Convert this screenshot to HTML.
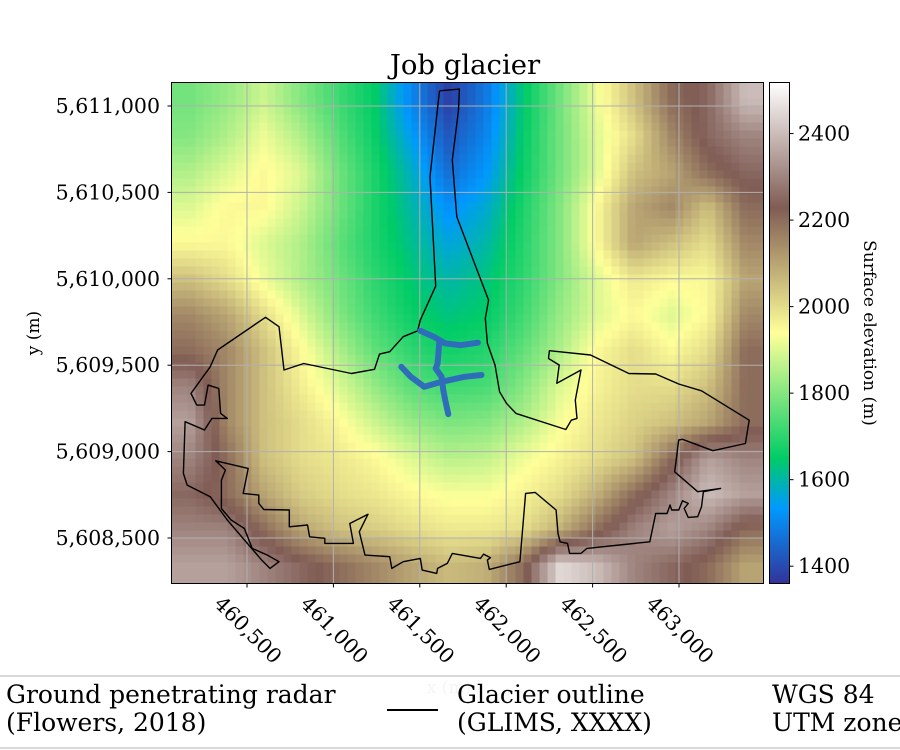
<!DOCTYPE html>
<html><head><meta charset="utf-8"><style>
html,body{margin:0;padding:0;background:#fff;width:900px;height:750px;overflow:hidden}
svg{display:block;font-family:"DejaVu Serif","Liberation Serif",serif}
</style></head><body>
<svg id="c" width="900" height="750" viewBox="0 0 900 750">
<text x="465" y="74" font-size="27.5" text-anchor="middle">Job glacier</text>
<g id="heat"></g>
<g id="grid"></g>
<g id="outline"></g>
<g id="radar"></g>
<rect x="171.5" y="82.5" width="592" height="501" fill="none" stroke="#000" stroke-width="1"/>
<g id="xt"></g>
<g id="yt"></g>
<text transform="translate(39,333) rotate(-90)" font-size="17" text-anchor="middle">y (m)</text>
<defs><linearGradient id="cg" x1="0" y1="1" x2="0" y2="0"></linearGradient></defs>
<rect x="769.5" y="82.5" width="20" height="501" fill="url(#cg)" stroke="#000" stroke-width="1"/>
<g id="ct"></g>
<text transform="translate(864,333) rotate(90)" font-size="17" text-anchor="middle">Surface elevation (m)</text>
<text x="449" y="693" font-size="17" fill="#c8c8c8" text-anchor="middle">x (m)</text>
<g>
<rect x="-1" y="676" width="902" height="72" fill="#fff" fill-opacity="0.8" stroke="#ccc" stroke-width="1.5"/>
<text x="6" y="703" font-size="25">Ground penetrating radar</text>
<text x="6" y="731" font-size="25">(Flowers, 2018)</text>
<line x1="387" y1="710" x2="438" y2="710" stroke="#000" stroke-width="2"/>
<text x="457" y="703" font-size="25">Glacier outline</text>
<text x="457" y="731" font-size="25">(GLIMS, XXXX)</text>
<text x="772" y="703" font-size="25">WGS 84</text>
<text x="772" y="731" font-size="25">UTM zone</text>
</g>
</svg>
<script>
// ---- data ----
const xTicks=[460500,461000,461500,462000,462500,463000];
const yTicks=[5611000,5610500,5610000,5609500,5609000,5608500];
const cbTicks=[1400,1600,1800,2000,2200,2400];
const vMin=1360, vMax=2518;
// elevation grid (rows top->bottom, 16 cols)
const elev=[
[1780,1820,1880,1800,1720,1650,1500,1380,1480,1640,1780,1920,2050,2200,2250,2400],
[1800,1850,1920,1850,1750,1660,1540,1420,1500,1650,1780,1900,2000,2150,2250,2300],
[1850,1900,1950,1900,1780,1680,1580,1460,1530,1660,1780,1900,2050,2100,2200,2250],
[1900,1950,1950,1880,1780,1680,1600,1520,1570,1680,1800,1950,2100,2150,2050,2200],
[1950,1950,1900,1850,1760,1680,1620,1560,1600,1690,1800,1950,2100,2050,2000,2150],
[2050,2000,1920,1850,1780,1700,1640,1600,1630,1700,1800,1900,1980,1950,1950,2100],
[2150,2100,2000,1900,1800,1720,1660,1630,1650,1720,1820,1900,1950,1900,1950,2150],
[2200,2150,2050,1950,1850,1760,1700,1670,1690,1760,1850,1950,2000,1950,2000,2200],
[2300,2150,2050,1970,1900,1820,1750,1720,1730,1800,1900,1960,2000,2000,2050,2200],
[2350,2150,2050,2000,1950,1880,1820,1790,1800,1850,1930,1980,2020,2050,2100,2200],
[2300,2200,2050,2000,1980,1950,1900,1860,1870,1920,1960,2000,2050,2200,2350,2300],
[2250,2200,2100,2030,2000,1980,1950,1930,1930,1960,2000,2080,2200,2300,2400,2350],
[2300,2300,2200,2100,2050,2030,2000,1980,1980,2000,2080,2200,2300,2350,2300,2200],
[2350,2350,2300,2250,2200,2150,2100,2060,2080,2200,2450,2400,2300,2250,2200,2100]];
const outlineE=[461614,461729,461724,461688,461714,461824,461898,461879,461891,461935,461962,462002,462057,462345,462377,462410,462400,462433,462293,462307,462245,462250,462488,462710,462865,462998,463130,463406,463384,463196,463020,462998,462975,463108,463241,463141,463130,463108,463053,463030,463053,463020,462998,462958,462948,462931,462865,462831,462467,462433,462367,462355,462312,462300,462289,462167,462112,462079,461902,461891,461909,461869,461851,461688,461659,461603,461598,461514,461503,461404,461338,461326,461183,461150,461200,461095,461116,460950,460950,460862,460850,460745,460745,460597,460568,460568,460478,460507,460319,460375,460352,460352,460408,460485,460530,460618,460685,460633,460585,460386,460287,460154,460132,460142,460254,460297,460386,460347,460337,460275,460254,460209,460176,460287,460330,460607,460685,460714,460828,461105,461238,461267,461326,461404,461488,461503,461592,461559,461614];
const outlineN=[5611088,5611098,5610976,5610687,5610359,5610070,5609877,5609771,5609626,5609501,5609346,5609279,5609221,5609128,5609182,5609192,5609298,5609472,5609395,5609501,5609539,5609584,5609559,5609452,5609449,5609391,5609352,5609182,5609047,5609005,5609071,5609067,5608883,5608768,5608787,5608768,5608681,5608623,5608619,5608671,5608700,5608716,5608662,5608662,5608691,5608642,5608642,5608478,5608440,5608411,5608411,5608469,5608478,5608527,5608662,5608764,5608758,5608363,5608318,5608372,5608386,5608407,5608382,5608411,5608353,5608324,5608295,5608314,5608382,5608363,5608324,5608392,5608401,5608536,5608638,5608584,5608469,5608469,5608498,5608507,5608575,5608565,5608662,5608665,5608700,5608748,5608758,5608903,5608947,5608893,5608835,5608671,5608604,5608555,5608440,5608401,5608363,5608324,5608372,5608604,5608739,5608806,5608874,5609173,5609125,5609192,5609192,5609221,5609366,5609385,5609269,5609269,5609337,5609491,5609588,5609777,5609723,5609472,5609510,5609452,5609476,5609564,5609578,5609665,5609699,5609761,5609958,5610591,5611088];
const radarAE=[461503,461581,461647,461736,461836];
const radarAN=[5609699,5609665,5609626,5609616,5609630];
const radarVE=[461614,461603,461592,461626,461636,461647,461665];
const radarVN=[5609645,5609510,5609481,5609433,5609356,5609298,5609217];
const radarLE=[461393,461448,461526,461626,461758,461857];
const radarLN=[5609491,5609433,5609375,5609404,5609433,5609443];

// ---- axes ----
const PX0=171.5,PX1=763.5,PY0=82.5,PY1=583.5;
const sx=v=>247+(v-460500)*86.4/500;
const sy=v=>106+(5611000-v)*86.4/500;
const sc=v=>583.5-(v-vMin)/(vMax-vMin)*501;
const NS="http://www.w3.org/2000/svg";
function mk(t,a,p){const e=document.createElementNS(NS,t);for(const k in a)e.setAttribute(k,a[k]);p.appendChild(e);return e;}
const stops=[[0,[.2,.2,.6]],[.15,[0,.6,1]],[.25,[0,.8,.4]],[.5,[1,1,.6]],[.75,[.5,.36,.33]],[1,[1,1,1]]];
function cmap(v){let t=(v-vMin)/(vMax-vMin);t=Math.max(0,Math.min(1,t));
 for(let i=1;i<stops.length;i++){if(t<=stops[i][0]){const a=stops[i-1],b=stops[i],f=(t-a[0])/(b[0]-a[0]);
  return 'rgb('+[0,1,2].map(k=>Math.round(255*(a[1][k]+f*(b[1][k]-a[1][k])))).join(',')+')';}}return '#fff';}
// heatmap
const heat=document.getElementById('heat');
const R=elev.length,C=elev[0].length,cw=(PX1-PX0)/C,ch=(PY1-PY0)/R,cell=8;
function sample(x,y){let gx=(x-PX0)/cw-0.5,gy=(y-PY0)/ch-0.5;gx=Math.max(0,Math.min(C-1,gx));gy=Math.max(0,Math.min(R-1,gy));
 const i0=Math.floor(gx),j0=Math.floor(gy),i1=Math.min(C-1,i0+1),j1=Math.min(R-1,j0+1),fx=gx-i0,fy=gy-j0;
 return elev[j0][i0]*(1-fx)*(1-fy)+elev[j0][i1]*fx*(1-fy)+elev[j1][i0]*(1-fx)*fy+elev[j1][i1]*fx*fy;}
for(let y=PY0;y<PY1;y+=cell){for(let x=PX0;x<PX1;x+=cell){
 const w=Math.min(cell,PX1-x),h=Math.min(cell,PY1-y);
 const r=mk('rect',{x:x,y:y,width:w+0.3,height:h+0.3,fill:cmap(sample(x+w/2,y+h/2))},heat);
 
 
}}
// grid & ticks
const grid=document.getElementById('grid'),xt=document.getElementById('xt'),yt=document.getElementById('yt');
const fmt=v=>v.toLocaleString('en-US');
xTicks.forEach(v=>{const x=sx(v);
 mk('line',{x1:x,y1:PY0,x2:x,y2:PY1,stroke:'#b0b0b0','stroke-width':1},grid);
 mk('line',{x1:x,y1:PY1,x2:x,y2:PY1+4,stroke:'#000'},xt);
 const t=mk('text',{x:0,y:0,'font-size':20.5,'text-anchor':'middle','dominant-baseline':'middle',transform:`translate(${x},${631}) rotate(45)`},xt);
 t.textContent=fmt(v);
 
 
});
yTicks.forEach(v=>{const y=sy(v);
 mk('line',{x1:PX0,y1:y,x2:PX1,y2:y,stroke:'#b0b0b0','stroke-width':1},grid);
 mk('line',{x1:PX0-4,y1:y,x2:PX0,y2:y,stroke:'#000'},yt);
 const t=mk('text',{x:160,y:y+7,'font-size':20.5,'text-anchor':'end'},yt);
 t.textContent=fmt(v);
 
 
});
// colorbar
const cg=document.getElementById('cg');
stops.forEach(s=>mk('stop',{offset:s[0],'stop-color':`rgb(${s[1].map(k=>Math.round(k*255)).join(',')})`},cg));
const ct=document.getElementById('ct');
cbTicks.forEach(v=>{const y=sc(v);
 mk('line',{x1:789.5,y1:y,x2:793.5,y2:y,stroke:'#000'},ct);
 const t=mk('text',{x:798,y:y+7,'font-size':20.5},ct);
 t.textContent=v;
 
 
});
// outline
const pts=(E,N)=>E.map((e,i)=>sx(e).toFixed(1)+','+sy(N[i]).toFixed(1)).join(' ');
const ol=mk('polyline',{points:pts(outlineE,outlineN),fill:'none',stroke:'#000','stroke-width':1.4,'stroke-linejoin':'round'},document.getElementById('outline'));


// radar
const rg=document.getElementById('radar');
[[radarAE,radarAN],[radarVE,radarVN],[radarLE,radarLN]].forEach(p=>{
 const l=mk('polyline',{points:pts(p[0],p[1]),fill:'none',stroke:'#2f6dbb','stroke-width':6,'stroke-linecap':'round','stroke-linejoin':'round'},rg);
 
 
});
</script>
</body></html>
